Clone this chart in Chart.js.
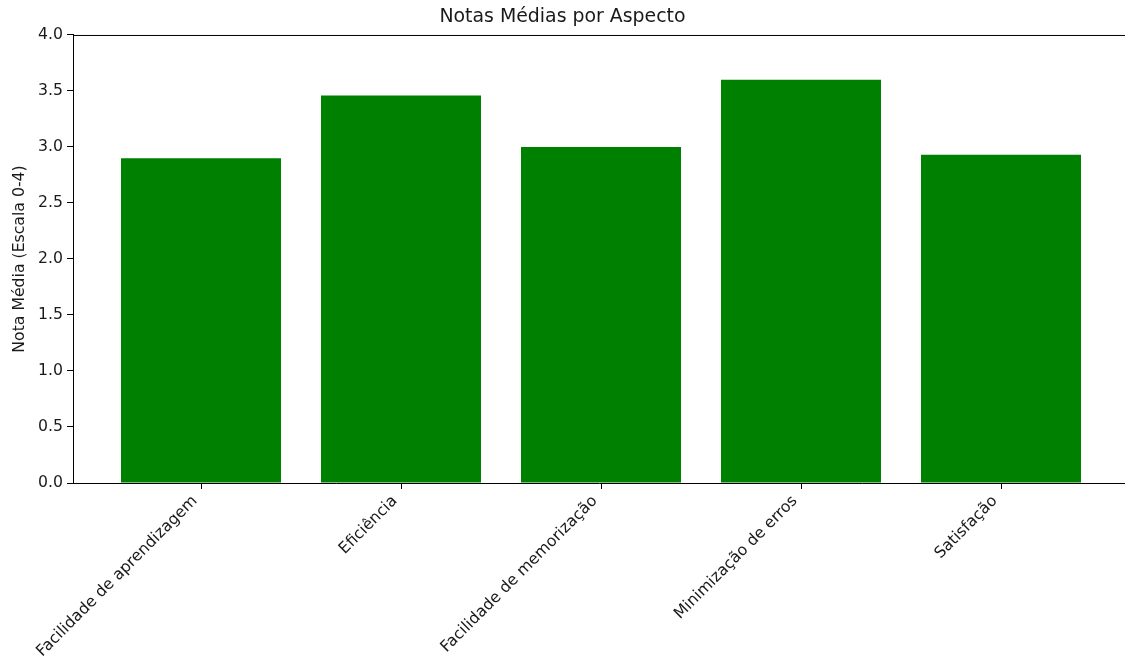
<!DOCTYPE html>
<html>
<head>
<meta charset="utf-8">
<script src="https://cdn.jsdelivr.net/npm/chart.js@4"></script>
<style>
  body { margin: 0; background: #fff; }
  canvas { display: block; }
</style>
</head>
<body>
<canvas id="grafico" width="1125" height="657"></canvas>
<script>
const aspectos = ['Facilidade de aprendizagem', 'Eficiência', 'Facilidade de memorização', 'Minimização de erros', 'Satisfação'];
const notas = [2.9, 3.46, 3.0, 3.6, 2.93];
const ticksY = [0, 0.5, 1, 1.5, 2, 2.5, 3, 3.5, 4];

Chart.defaults.font.family = '"DejaVu Sans", sans-serif';
Chart.defaults.color = '#1a1a1a';

// linha de cima do quadro (spine superior)
const bordaTopo = {
  id: 'bordaTopo',
  afterDraw(chart) {
    const { ctx, chartArea } = chart;
    ctx.save();
    ctx.strokeStyle = '#000';
    ctx.lineWidth = 1;
    ctx.beginPath();
    ctx.moveTo(chartArea.left, chartArea.top + 0.5);
    ctx.lineTo(chartArea.right, chartArea.top + 0.5);
    ctx.stroke();
    ctx.restore();
  }
};

const ctx = document.getElementById('grafico').getContext('2d');
new Chart(ctx, {
  type: 'bar',
  data: {
    datasets: [{
      label: 'Nota Média',
      data: notas.map((v, i) => ({ x: i, y: v })),
      backgroundColor: '#008000',
      borderWidth: 0,
      barPercentage: 0.8,
      categoryPercentage: 1
    }]
  },
  options: {
    responsive: false,
    animation: false,
    layout: { padding: 0 },
    plugins: {
      legend: { display: false },
      tooltip: { enabled: false },
      title: {
        display: true,
        text: 'Notas Médias por Aspecto',
        color: '#1a1a1a',
        font: { size: 18.9, weight: 'normal' },
        padding: { top: 6, bottom: 6.3 }
      }
    },
    scales: {
      x: {
        type: 'linear',
        min: -0.64,
        max: 4.62,
        offset: false,
        afterFit: s => { s.height = 174; },
        afterBuildTicks: s => { s.ticks = aspectos.map((_, i) => ({ value: i })); },
        grid: { display: true, offset: false, drawOnChartArea: false, drawTicks: true, tickLength: 6, color: '#000' },
        border: { display: true, color: '#000', width: 1 },
        ticks: {
          autoSkip: false,
          maxRotation: 45,
          minRotation: 45,
          padding: 3,
          labelOffset: -6,
          font: { size: 15.7 },
          callback: v => aspectos[v]
        }
      },
      y: {
        min: 0,
        max: 4,
        afterFit: s => { s.width = 73; },
        afterBuildTicks: s => { s.ticks = ticksY.map(v => ({ value: v })); },
        grid: { display: true, drawOnChartArea: false, drawTicks: true, tickLength: 6, color: '#000' },
        border: { display: true, color: '#000', width: 1 },
        title: {
          display: true,
          text: 'Nota Média (Escala 0-4)',
          font: { size: 15.7 },
          padding: { top: 10.6, bottom: 0 }
        },
        ticks: {
          padding: 4,
          font: { size: 15.7 },
          callback: v => v.toFixed(1)
        }
      }
    }
  },
  plugins: [bordaTopo]
});
</script>
</body>
</html>
